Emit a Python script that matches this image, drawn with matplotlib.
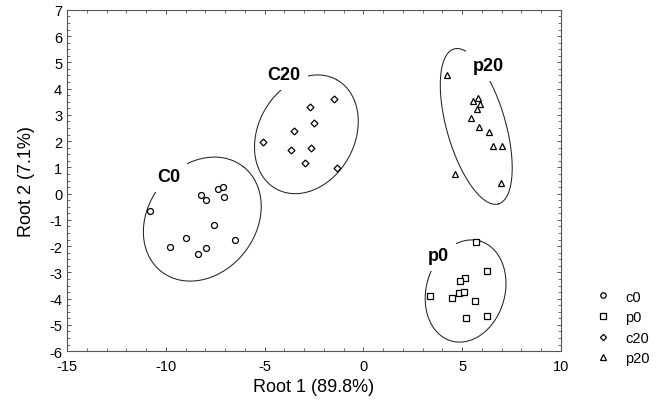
import numpy as np
import matplotlib
matplotlib.use('Agg')
import matplotlib.pyplot as plt
from matplotlib.lines import Line2D

plt.rcParams['font.family'] = ['Liberation Sans', 'DejaVu Sans']
plt.rcParams['axes.unicode_minus'] = False

# canonical scores
c0_x = [-10.78, -8.21, -7.98, -7.37, -7.12, -7.03, -7.58, -8.96, -6.51, -9.77, -7.96, -8.37]
c0_y = [-0.65, -0.05, -0.24, 0.17, 0.27, -0.14, -1.18, -1.69, -1.78, -2.05, -2.06, -2.30]

c20_x = [-1.50, -2.68, -2.48, -3.53, -5.10, -3.66, -2.65, -2.97, -1.35]
c20_y = [3.59, 3.30, 2.69, 2.40, 1.96, 1.68, 1.73, 1.18, 0.98]

p0_x = [5.70, 6.26, 5.16, 4.91, 3.39, 4.49, 4.86, 5.11, 5.67, 5.21, 6.26]
p0_y = [-1.83, -2.94, -3.23, -3.32, -3.89, -3.99, -3.79, -3.73, -4.08, -4.74, -4.68]

p20_x = [4.24, 5.53, 5.80, 5.92, 5.75, 5.47, 5.86, 6.39, 6.58, 7.00, 4.66, 6.97]
p20_y = [4.53, 3.53, 3.64, 3.41, 3.23, 2.88, 2.55, 2.34, 1.83, 1.83, 0.75, 0.41]

group_names = ['c0', 'p0', 'c20', 'p20']
group_labels = ['C0', 'p0', 'C20', 'p20']
label_x = [-9.85, 3.81, -4.0, 6.34]
label_y = [0.66, -2.37, 4.54, 4.89]

# ellipses: centre (data), semi axes (x units), tilt (deg)
ell_cx = [-8.15, 5.18, -2.88, 5.72]
ell_cy = [-0.97, -3.71, 2.26, 2.56]
ell_a = [3.37, 2.63, 3.16, 4.08]
ell_b = [2.72, 1.99, 2.44, 1.49]
ell_ang = [52, 74, 61, -74]

markers = ['o', 's', 'D', '^']
msizes = [4.3, 4.6, 3.5, 4.4]

fig = plt.figure(figsize=(6.7, 4.02), dpi=100)
ax = fig.add_axes([0.1, 0.124, 0.737, 0.849])
ax.set_xlim(-15, 10)
ax.set_ylim(-6, 7)

# ratio of y to x scale in pixels, so the ellipses tilt like on screen
k = (0.849 * 402 / 13) / (0.737 * 670 / 25)

t = np.linspace(0, 2 * np.pi, 400)
for i in range(4):
    phi = np.radians(ell_ang[i])
    u = ell_a[i] * np.cos(t)
    v = ell_b[i] * np.sin(t)
    ex = ell_cx[i] + u * np.cos(phi) - v * np.sin(phi)
    ey = ell_cy[i] + (u * np.sin(phi) + v * np.cos(phi)) / k
    ax.plot(ex, ey, color='#222222', lw=0.75, zorder=2)

xs = [c0_x, p0_x, c20_x, p20_x]
ys = [c0_y, p0_y, c20_y, p20_y]
for i in range(4):
    ax.plot(xs[i], ys[i], ls='none', marker=markers[i], ms=msizes[i],
            mfc='white', mec='black', mew=0.9, zorder=4)
    ax.text(label_x[i], label_y[i], group_labels[i], fontsize=13, fontweight='bold',
            ha='center', va='center', zorder=3,
            bbox=dict(facecolor='white', edgecolor='none', pad=5))

ax.set_xticks([-15, -10, -5, 0, 5, 10])
ax.set_yticks(range(-6, 8))
ax.set_xticks(np.arange(-15, 10.1, 1), minor=True)
ax.set_yticks(np.arange(-6, 7.01, 0.25), minor=True)
ax.tick_params(which='both', direction='in', top=True, right=True, labelsize=10.5,
               color='#555555')
ax.tick_params(axis='x', which='major', pad=6)
ax.tick_params(which='major', length=3, width=0.7)
ax.tick_params(which='minor', length=2, width=0.6)
for s in ax.spines.values():
    s.set_color('#555555')
    s.set_linewidth(0.8)

ax.set_xlabel('Root 1 (89.8%)', fontsize=13, labelpad=3)
ax.set_ylabel('Root 2 (7.1%)', fontsize=13, labelpad=10)

handles = [Line2D([], [], ls='none', marker=markers[i], ms=msizes[i] * 0.9,
                  mfc='white', mec='black', mew=0.9) for i in range(4)]
fig.legend(handles, group_names, loc='center left', bbox_to_anchor=(0.87, 0.183),
           frameon=False, fontsize=10.5, handlelength=1.0, handletextpad=1.0,
           labelspacing=0.45)

fig.savefig('out.png', dpi=100)
